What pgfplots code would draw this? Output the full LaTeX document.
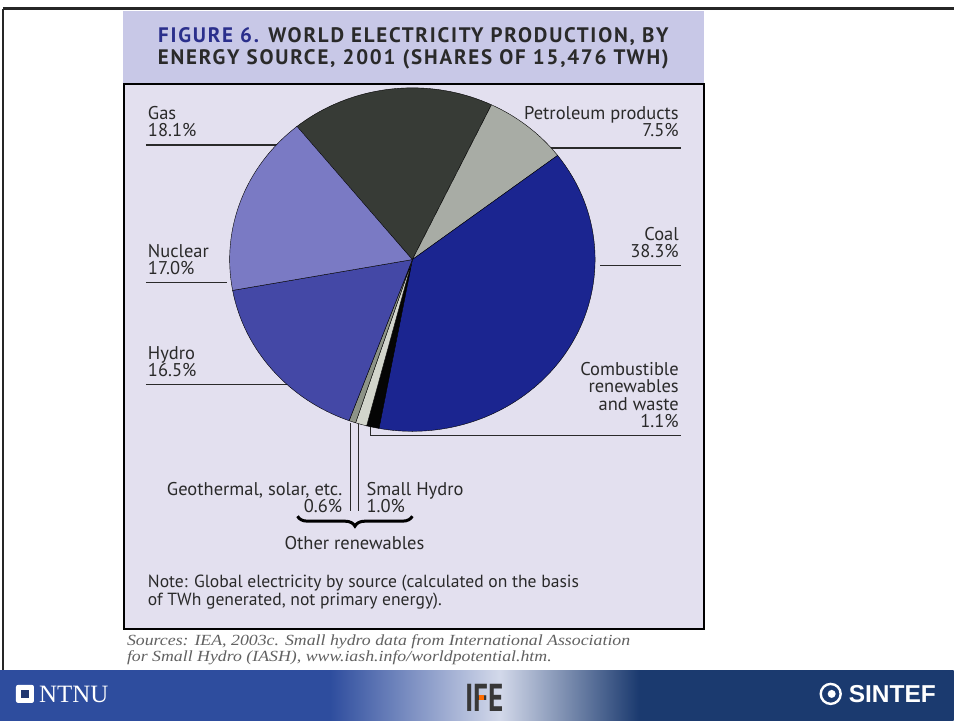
\documentclass[border=0pt]{standalone}
\usepackage{pgfplots}
\pgfplotsset{compat=1.18}
\usepackage{pgfplotstable}
\usepackage{fontspec}
\setmainfont{PT Sans}
\newfontfamily\titlefont[LetterSpace=8.5]{PT Sans Bold}
\newfontfamily\srcfont{Liberation Serif}
\newfontfamily\logoserif{Liberation Serif}
\newfontfamily\logosans{Liberation Sans}
\usetikzlibrary{decorations.pathreplacing}

% wedge colours, indexed by the idx column below
\definecolor{pc0}{HTML}{373B36}% gas
\definecolor{pc1}{HTML}{A8ACA5}% petroleum products
\definecolor{pc2}{HTML}{1B2590}% coal
\definecolor{pc3}{HTML}{050505}% combustible renewables and waste
\definecolor{pc4}{HTML}{D2D5CC}% small hydro
\definecolor{pc5}{HTML}{8D9387}% geothermal, solar, etc.
\definecolor{pc6}{HTML}{4448A6}% hydro
\definecolor{pc7}{HTML}{7A7AC4}% nuclear
\definecolor{panelbg}{HTML}{E3E0EF}
\definecolor{titlebg}{HTML}{C8C8E7}
\definecolor{titleblue}{HTML}{2B2F8C}
\definecolor{textc}{HTML}{2A2A2A}
\definecolor{bandL}{HTML}{2E4D9E}
\definecolor{bandM}{HTML}{D3D9EA}
\definecolor{bandR}{HTML}{1B3A6F}

% footer band: blue, a light streak, then navy
\pgfdeclarehorizontalshading{footerband}{100bp}{%
  color(0bp)=(bandL); color(25bp)=(bandL); color(42.3bp)=(bandL);
  color(51.2bp)=(bandM); color(58.5bp)=(bandR); color(100bp)=(bandR)}

% shares of world electricity production, clockwise from the gas/nuclear boundary
\pgfplotstableread{
x y pct idx
413 462 18.1 0
413 462 7.5 1
413 462 38.3 2
413 462 1.1 3
413 462 1.0 4
413 462 0.6 5
413 462 16.5 6
413 462 17.0 7
}\sharetable

\newcommand\lbl{\fontsize{18.5}{21}\selectfont}
\def\pieangle{129.5}

\begin{document}
\begin{tikzpicture}
\begin{axis}[
  x=1pt, y=1pt,
  xmin=0, xmax=955, ymin=0, ymax=722,
  hide axis,
  clip=false,
]
% slide background and frame
\fill[white] (axis cs:0,0) rectangle (axis cs:955,722);
\draw[black!85, line width=3pt] (axis cs:3,713) -- (axis cs:955,713);
\draw[black!85, line width=1.5pt] (axis cs:3,713) -- (axis cs:3,50);

% figure panel
\fill[titlebg] (axis cs:123,711) rectangle (axis cs:705,638);
\fill[panelbg] (axis cs:124,638) rectangle (axis cs:705,92);
\draw[black, line width=1.8pt] (axis cs:124,638) rectangle (axis cs:705,92);

\node[anchor=base, inner sep=0pt, font=\titlefont\fontsize{21}{24}\selectfont, text=textc] at (axis cs:414,679)
  {\textcolor{titleblue}{FIGURE 6.} WORLD ELECTRICITY PRODUCTION, BY};
\node[anchor=base, inner sep=0pt, font=\titlefont\fontsize{21}{24}\selectfont, text=textc] at (axis cs:414,657)
  {ENERGY SOURCE, 2001 (SHARES OF 15,476 TWH)};

% pie wedges, one per row of the table
\addplot[
  scatter, only marks, mark=none,
  visualization depends on={\thisrow{pct} \as \wpct},
  visualization depends on={\thisrow{idx} \as \widx},
  scatter/@pre marker code/.code={%
    \pgfmathsetmacro\wend{\pieangle-3.6*\wpct}%
    \pgfmathtruncatemacro\wci{\widx}%
    \fill[fill=pc\wci] (0,0) -- (\pieangle:183pt and 172pt)
      arc[start angle=\pieangle, end angle=\wend, x radius=183pt, y radius=172pt] -- cycle;%
    \global\let\pieangle\wend
  },
  scatter/@post marker code/.code={},
] table[x=x, y=y] {\sharetable};

% labels and leader lines
\begin{scope}[every node/.style={font=\lbl, text=textc, inner sep=0pt}]
\node[anchor=base west] at (axis cs:148,602) {Gas};
\node[anchor=base west] at (axis cs:148,585) {18.1\%};
\draw[textc, line width=1.6pt] (axis cs:146,577) -- (axis cs:283,577);

\node[anchor=base east] at (axis cs:680,602) {Petroleum products};
\node[anchor=base east] at (axis cs:680,585) {7.5\%};
\draw[textc, line width=1.6pt] (axis cs:544,574) -- (axis cs:682,574);

\node[anchor=base east] at (axis cs:680,481) {Coal};
\node[anchor=base east] at (axis cs:680,464) {38.3\%};
\draw[textc, line width=1.6pt] (axis cs:601,456) -- (axis cs:682,456);

\node[anchor=base west] at (axis cs:148,464) {Nuclear};
\node[anchor=base west] at (axis cs:148,447) {17.0\%};
\draw[textc, line width=1.6pt] (axis cs:146,439) -- (axis cs:227,439);

\node[anchor=base west] at (axis cs:148,362) {Hydro};
\node[anchor=base west] at (axis cs:148,345) {16.5\%};
\draw[textc, line width=1.6pt] (axis cs:146,337) -- (axis cs:288,337);

\node[anchor=base east] at (axis cs:680,346) {Combustible};
\node[anchor=base east] at (axis cs:680,329) {renewables};
\node[anchor=base east] at (axis cs:680,311) {and waste};
\node[anchor=base east] at (axis cs:680,294) {1.1\%};
\draw[textc, line width=1.6pt] (axis cs:371,298) -- (axis cs:371,286) -- (axis cs:682,286);

\draw[textc, line width=1.6pt] (axis cs:351,298) -- (axis cs:351,210);
\draw[textc, line width=1.6pt] (axis cs:359,298) -- (axis cs:359,210);
\node[anchor=base east] at (axis cs:343,226) {Geothermal, solar, etc.};
\node[anchor=base east] at (axis cs:343,209) {0.6\%};
\node[anchor=base west] at (axis cs:367,226) {Small Hydro};
\node[anchor=base west] at (axis cs:367,209) {1.0\%};
\draw[black, line width=3pt, decorate, decoration={brace, mirror, amplitude=10pt}]
  (axis cs:298,205) -- (axis cs:413,205);
\node[anchor=base] at (axis cs:355,172) {Other renewables};

\node[anchor=base west, font=\fontsize{17.6}{20}\selectfont] at (axis cs:148,134) {Note: Global electricity by source (calculated on the basis};
\node[anchor=base west, font=\fontsize{17.6}{20}\selectfont] at (axis cs:148,116) {of TWh generated, not primary energy).};
\end{scope}

\node[anchor=base west, inner sep=0pt, text=black!62, xscale=1.15, font=\srcfont\itshape\fontsize{15.5}{17}\selectfont]
  at (axis cs:127,75) {Sources: IEA, 2003c. Small hydro data from International Association};
\node[anchor=base west, inner sep=0pt, text=black!62, xscale=1.15, font=\srcfont\itshape\fontsize{15.5}{17}\selectfont]
  at (axis cs:127,59) {for Small Hydro (IASH), www.iash.info/worldpotential.htm.};

% footer band with logos
\shade[shading=footerband] (axis cs:0,0) rectangle (axis cs:955,50);

\fill[white, rounded corners=2pt] (axis cs:16,18) rectangle (axis cs:34,36);
\fill[bandL!70!black] (axis cs:21,23) rectangle (axis cs:29,31);
\node[anchor=base west, inner sep=0pt, text=white, font=\logoserif\fontsize{25}{28}\selectfont] at (axis cs:39,18) {NTNU};

\node[anchor=base, inner sep=0pt, text=black!78, xscale=0.75, font=\bfseries\fontsize{39}{41}\selectfont] at (axis cs:485,9) {IFE};
\fill[orange!85!red] (axis cs:479.5,20.5) rectangle (axis cs:485,26);

\draw[white, line width=2.4pt] (axis cs:832,27) circle[radius=10pt];
\fill[white] (axis cs:833,27) circle[radius=4pt];
\node[anchor=base west, inner sep=0pt, text=white, font=\logosans\bfseries\fontsize{24.5}{27}\selectfont] at (axis cs:850,18) {SINTEF};
\end{axis}
\end{tikzpicture}
\end{document}
